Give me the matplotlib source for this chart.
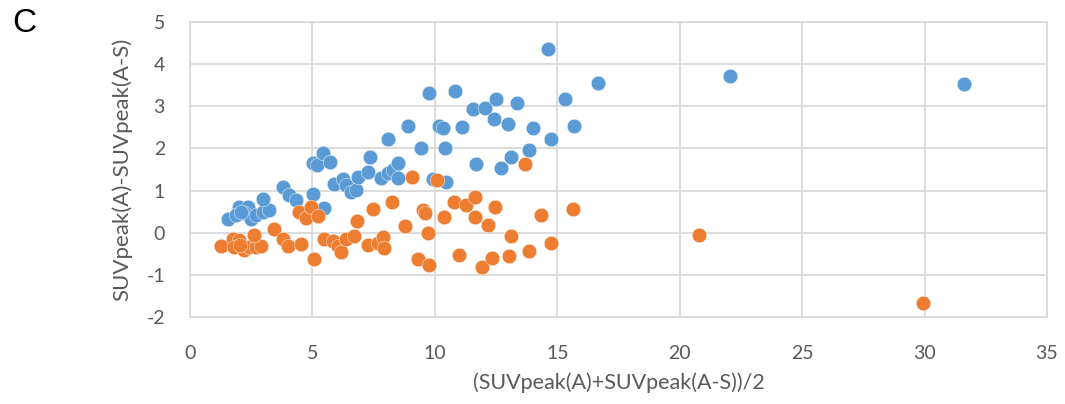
import matplotlib
matplotlib.use("Agg")
import matplotlib.pyplot as plt

blue_x = [1.54, 2.01, 2.36, 1.88, 2.22, 2.49, 2.69, 2.97, 3.24, 2.99, 2.10, 3.78, 4.05, 4.33,
          5.04, 5.48, 5.01, 5.18, 5.42, 5.73, 5.87, 6.23, 6.37, 6.57, 6.78, 6.85, 7.26, 7.35,
          7.80, 8.07, 8.07, 8.28, 8.48, 8.48, 8.90, 9.43, 9.77, 9.94, 10.18, 10.32, 10.43,
          10.45, 10.83, 11.09, 11.57, 11.70, 12.06, 12.40, 12.49, 12.70, 12.97, 13.11, 13.34,
          13.86, 13.99, 14.63, 14.74, 15.30, 15.69, 16.65, 22.05, 31.60]
blue_y = [0.32, 0.62, 0.60, 0.42, 0.46, 0.32, 0.42, 0.50, 0.55, 0.81, 0.50, 1.08, 0.89, 0.77,
          0.92, 0.59, 1.65, 1.60, 1.88, 1.68, 1.15, 1.27, 1.13, 0.97, 1.01, 1.33, 1.45, 1.80,
          1.29, 1.41, 2.22, 1.49, 1.65, 1.31, 2.53, 2.00, 3.31, 1.27, 2.53, 2.48, 2.00,
          1.21, 3.37, 2.50, 2.94, 1.64, 2.97, 2.71, 3.18, 1.53, 2.57, 1.80, 3.07,
          1.96, 2.48, 4.36, 2.22, 3.18, 2.54, 3.56, 3.72, 3.53]

orange_x = [1.27, 1.74, 2.01, 1.81, 2.22, 2.42, 2.69, 2.90, 2.63, 2.05, 3.42, 3.78, 3.99, 4.46,
            4.53, 4.74, 4.94, 5.08, 5.24, 5.48, 5.83, 6.03, 6.17, 6.37, 6.71, 6.82, 7.26, 7.49,
            7.66, 7.87, 7.93, 8.25, 8.79, 9.06, 9.30, 9.50, 9.61, 9.73, 9.77, 10.09, 10.36,
            10.79, 10.97, 11.27, 11.62, 11.65, 11.92, 12.16, 12.32, 12.47, 13.03, 13.12, 13.67,
            13.86, 14.33, 14.75, 15.63, 20.80, 29.94]
orange_y = [-0.31, -0.14, -0.18, -0.33, -0.41, -0.33, -0.33, -0.31, -0.06, -0.30, 0.09, -0.16,
            -0.31, 0.48, -0.27, 0.36, 0.62, -0.63, 0.39, -0.14, -0.19, -0.31, -0.45, -0.14,
            -0.08, 0.28, -0.28, 0.56, -0.25, -0.10, -0.37, 0.73, 0.16, 1.33, -0.63, 0.54,
            0.46, 0.00, -0.77, 1.25, 0.38, 0.72, -0.53, 0.66, 0.38, 0.84, -0.81, 0.18, -0.60,
            0.60, -0.56, -0.07, 1.64, -0.43, 0.43, -0.25, 0.56, -0.06, -1.66]

x_ticks = [0, 5, 10, 15, 20, 25, 30, 35]
y_ticks = [-2, -1, 0, 1, 2, 3, 4, 5]
x_label = "(SUVpeak(A)+SUVpeak(A-S))/2"
y_label = "SUVpeak(A)-SUVpeak(A-S)"
panel_label = "C"

plt.rcParams['font.family'] = ['Lato', 'DejaVu Sans']
plt.rcParams['axes.unicode_minus'] = False
grid_c = '#D9D9D9'
text_c = '#595959'

fig = plt.figure(figsize=(10.65, 4.04), dpi=100)
ax = fig.add_axes([190/1065, 1-317/404, (1047-190)/1065, (317-22)/404])
ax.scatter(blue_x, blue_y, s=110, color='#5B9BD5', edgecolors='white', linewidths=0.3, zorder=3)
ax.scatter(orange_x, orange_y, s=110, color='#ED7D31', edgecolors='white', linewidths=0.3, zorder=3)

ax.set_xlim(0, 35)
ax.set_ylim(-2, 5)
ax.set_xticks(x_ticks)
ax.set_yticks(y_ticks)
ax.grid(True, color=grid_c, linewidth=1.3)
ax.set_axisbelow(True)
for s in ax.spines.values():
    s.set_color(grid_c)
    s.set_linewidth(1.3)
ax.tick_params(length=0, colors=text_c, labelsize=14)
ax.tick_params(axis='x', pad=20)
ax.tick_params(axis='y', pad=18)
ax.set_xlabel(x_label, fontsize=15.5, color=text_c, labelpad=8)
ax.set_ylabel(y_label, fontsize=16, color=text_c, labelpad=10)
fig.text(12/1065, 1-23/404, panel_label, fontsize=24, family='Liberation Sans', va='center', ha='left')

fig.savefig('out.png', dpi=100)
